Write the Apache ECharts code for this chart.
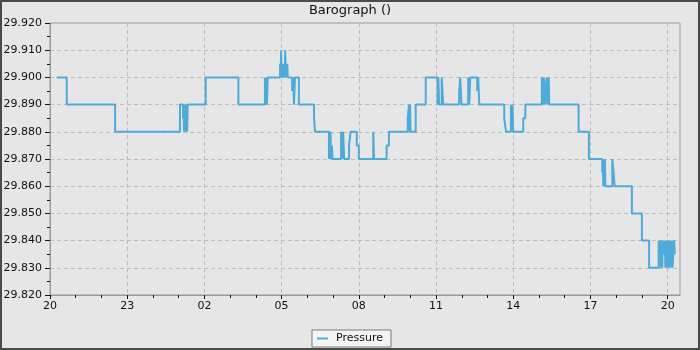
<!DOCTYPE html>
<html>
<head>
<meta charset="utf-8">
<script src="https://cdn.jsdelivr.net/npm/echarts@6/dist/echarts.min.js"></script>
<style>
html,body{margin:0;padding:0;background:#e6e6e6;}
#chart{width:700px;height:350px;}
</style>
</head>
<body>
<div id="chart"></div>
<script>
// hours after 20:00 on the first day
const times = [
  0.26, 0.65, 2.53, 5.05,
  5.17, 5.19, 5.21, 5.23, 5.25, 5.27, 5.29, 5.31, 5.33, 5.35,
  6.05, 7.32,
  8.35, 8.37, 8.39, 8.41, 8.43, 8.46, 8.49,
  8.94, 8.96, 8.98, 9.00, 9.02, 9.04, 9.06, 9.08, 9.10, 9.12, 9.14, 9.16, 9.18, 9.20, 9.22, 9.24, 9.26,
  9.41, 9.45, 9.48, 9.52, 9.67,
  10.26, 10.30,
  10.84, 10.86, 10.88, 10.90, 10.92, 10.95, 10.98,
  11.31, 11.33, 11.35, 11.37, 11.39, 11.43,
  11.62, 11.68, 11.92, 12.00,
  12.56, 12.59,
  13.08, 13.17,
  13.90, 13.95, 13.97, 13.99, 14.01,
  14.21, 14.60,
  15.06, 15.09, 15.12, 15.22, 15.28,
  15.90, 15.94, 15.99,
  16.25, 16.29, 16.33,
  16.60, 16.64, 16.68,
  17.65, 17.72,
  17.91, 17.95, 17.97, 18.00,
  18.39, 18.47,
  19.11, 19.13, 19.15, 19.17, 19.19, 19.21, 19.23, 19.25, 19.30, 19.32, 19.34, 19.36, 19.38, 19.40, 19.43,
  20.54, 20.94,
  21.46, 21.48, 21.50, 21.52, 21.54, 21.56, 21.58, 21.60,
  21.85, 21.90, 21.94,
  22.61, 23.00, 23.28,
  23.65, 23.67, 23.69, 23.71, 23.73, 23.75, 23.77, 23.79, 23.81, 23.84,
  23.89, 23.91, 23.93, 23.95, 23.97, 23.99, 24.01, 24.03, 24.05, 24.07,
  24.09, 24.11, 24.13, 24.15, 24.17, 24.19, 24.22, 24.25, 24.28
];
const pressure = [
  29.900, 29.890, 29.880, 29.890,
  29.885, 29.890, 29.880, 29.890, 29.880, 29.890, 29.880, 29.890, 29.880, 29.890,
  29.900, 29.890,
  29.900, 29.890, 29.895, 29.900, 29.890, 29.900, 29.900,
  29.905, 29.900, 29.910, 29.900, 29.905, 29.900, 29.905, 29.900, 29.905, 29.900, 29.910, 29.900, 29.905, 29.900, 29.905, 29.900, 29.900,
  29.895, 29.900, 29.890, 29.900, 29.890,
  29.885, 29.880,
  29.870, 29.880, 29.870, 29.880, 29.870, 29.875, 29.870,
  29.880, 29.870, 29.880, 29.870, 29.880, 29.870,
  29.875, 29.880, 29.875, 29.870,
  29.880, 29.870,
  29.875, 29.880,
  29.885, 29.890, 29.880, 29.890, 29.880,
  29.890, 29.900,
  29.890, 29.900, 29.890, 29.900, 29.890,
  29.895, 29.900, 29.890,
  29.900, 29.890, 29.900,
  29.895, 29.900, 29.890,
  29.885, 29.880,
  29.890, 29.880, 29.890, 29.880,
  29.885, 29.890,
  29.900, 29.890, 29.900, 29.890, 29.900, 29.895, 29.890, 29.895, 29.900, 29.890, 29.900, 29.890, 29.900, 29.890, 29.890,
  29.880, 29.870,
  29.865, 29.870, 29.860, 29.870, 29.860, 29.870, 29.860, 29.860,
  29.870, 29.865, 29.860,
  29.850, 29.840, 29.830,
  29.840, 29.830, 29.840, 29.830, 29.840, 29.830, 29.840, 29.830, 29.840, 29.835,
  29.840, 29.830, 29.840, 29.830, 29.840, 29.830, 29.840, 29.830, 29.840, 29.830,
  29.840, 29.830, 29.840, 29.830, 29.840, 29.830, 29.835, 29.840, 29.835
];
const startHour = 20;
const majorTicks = [0, 3, 6, 9, 12, 15, 18, 21, 24];
const minorTicks = [1, 2, 4, 5, 7, 8, 10, 11, 13, 14, 16, 17, 19, 20, 22, 23];
const seriesName = 'Pressure';
const titleText = 'Barograph ()';

const data = times.map((t, i) => [t, pressure[i]]);
const pad = n => (n < 10 ? '0' : '') + n;
const FONT = 'DejaVu Sans';
const xMax = 24.48;

const chart = echarts.init(document.getElementById('chart'), null, {renderer: 'canvas'});
chart.setOption({
  animation: false,
  backgroundColor: '#e6e6e6',
  textStyle: {fontFamily: FONT},
  title: {
    text: titleText, left: 'center', top: 4, padding: 0,
    textStyle: {fontFamily: FONT, fontSize: 13, fontWeight: 'normal', color: '#111'}
  },
  graphic: [{
    type: 'rect', silent: true, z: 100,
    shape: {x: 1, y: 1, width: 698, height: 348},
    style: {fill: 'none', stroke: '#4a4a4a', lineWidth: 2}
  }],
  legend: {
    bottom: 3, left: 'center',
    backgroundColor: '#f4f4f4', borderColor: '#7a7a7a', borderWidth: 1, borderRadius: 0,
    padding: [3, 8, 3, 5],
    icon: 'rect', itemWidth: 11, itemHeight: 2, itemGap: 10,
    textStyle: {fontFamily: FONT, fontSize: 11, color: '#111', padding: [0, 0, 0, 3]},
    data: [seriesName]
  },
  grid: {
    left: 50, right: 20, top: 23, bottom: 55,
    show: true, backgroundColor: '#e6e6e6', borderColor: '#999', borderWidth: 1,
    containLabel: false
  },
  xAxis: [{
    type: 'value', min: 0, max: xMax,
    axisLine: {show: true, lineStyle: {color: '#999', width: 1}},
    axisTick: {show: true, length: 4, lineStyle: {color: '#111'}, customValues: majorTicks},
    axisLabel: {
      customValues: majorTicks, margin: 6,
      fontFamily: FONT, fontSize: 11, color: '#111',
      formatter: v => pad((startHour + Math.round(v)) % 24)
    },
    splitLine: {show: true, lineStyle: {color: '#bdbdbd', type: [4, 3], width: 1}}
  }, {
    type: 'value', min: 0, max: xMax, position: 'bottom',
    axisLine: {show: false},
    axisTick: {show: true, length: 3, lineStyle: {color: '#111'}, customValues: minorTicks},
    axisLabel: {show: false},
    splitLine: {show: false}
  }],
  yAxis: {
    type: 'value', min: 29.82, max: 29.92, interval: 0.01,
    axisLine: {show: true, lineStyle: {color: '#999', width: 1}},
    axisTick: {show: true, length: 5, lineStyle: {color: '#111'}},
    minorTick: {show: true, splitNumber: 2, length: 3, lineStyle: {color: '#111'}},
    axisLabel: {
      margin: 8, fontFamily: FONT, fontSize: 11, color: '#111',
      formatter: v => v.toFixed(3)
    },
    splitLine: {show: true, lineStyle: {color: '#bdbdbd', type: [4, 3], width: 1}}
  },
  series: [{
    name: seriesName, type: 'line', step: 'end',
    xAxisIndex: 0,
    data: data, showSymbol: false, symbol: 'none',
    itemStyle: {color: '#4eaad9'},
    lineStyle: {color: '#4eaad9', width: 2},
    z: 5
  }]
});
</script>
</body>
</html>
